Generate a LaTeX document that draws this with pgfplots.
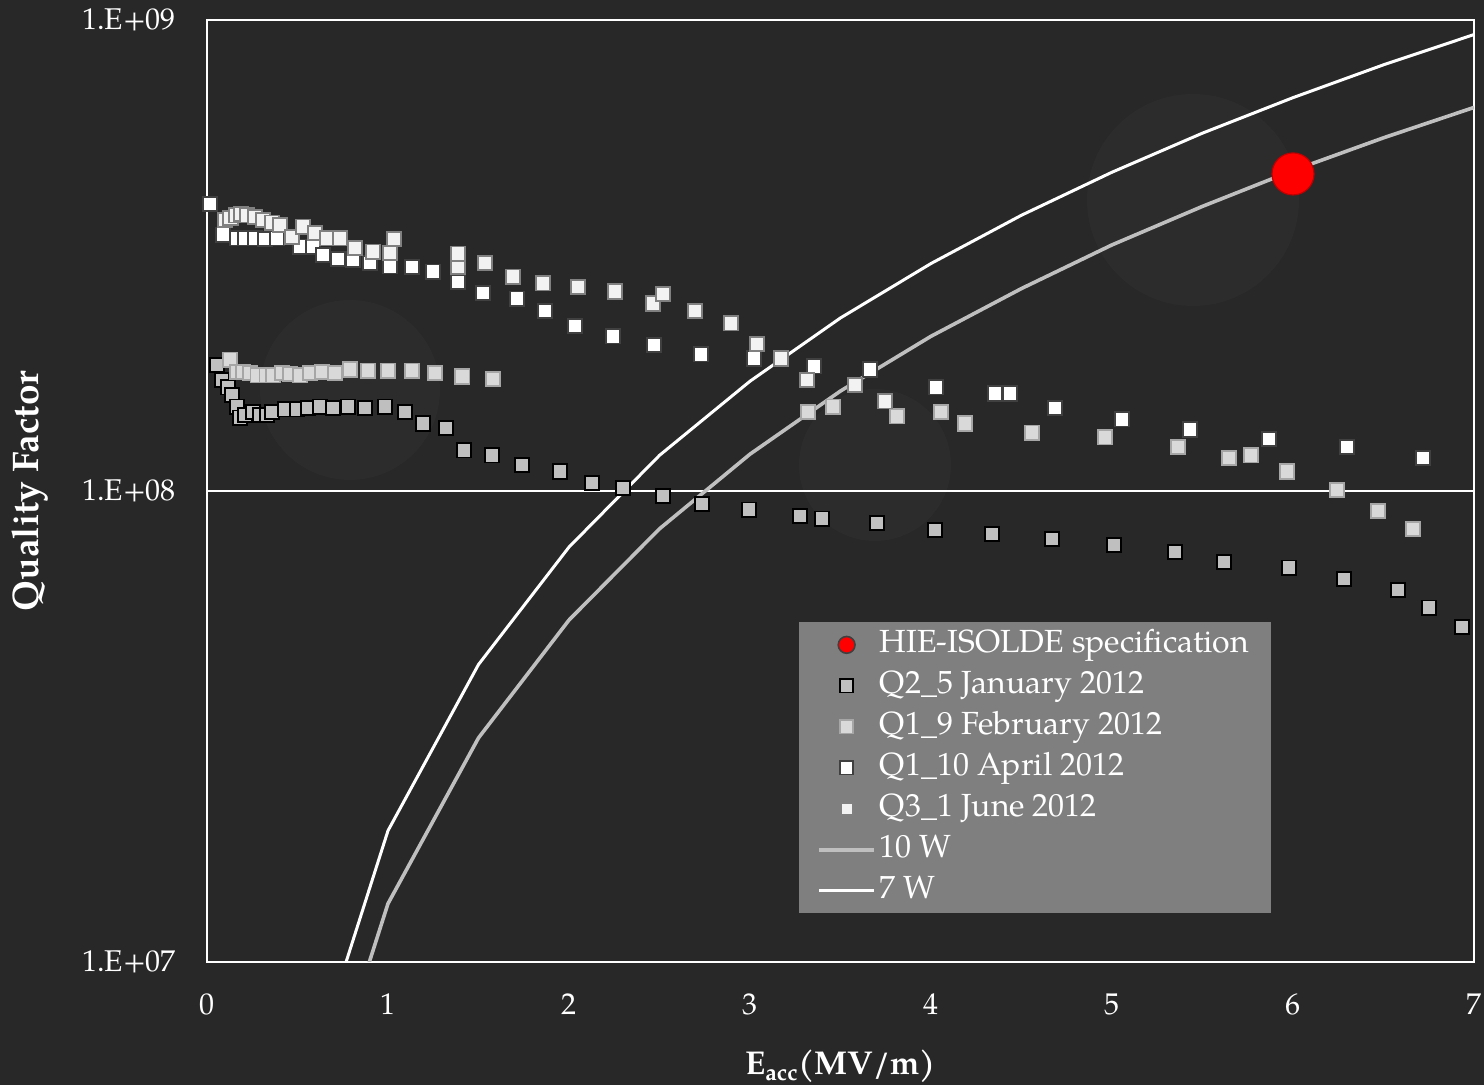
\documentclass[border=0pt]{standalone}
\usepackage{pgfplots}
\pgfplotsset{compat=1.18}
\usepackage{fontspec}
\setmainfont{TeX Gyre Pagella}
\definecolor{bg}{HTML}{282828}
\definecolor{leggray}{HTML}{7F7F7F}
\definecolor{janfill}{HTML}{BFBFBF}
\definecolor{febfill}{HTML}{D9D9D9}
\definecolor{febedge}{HTML}{A6A6A6}
\definecolor{apredge}{HTML}{404040}
\definecolor{junfill}{HTML}{F2F2F2}
\definecolor{junedge}{HTML}{808080}
\definecolor{tenw}{HTML}{BFBFBF}
\pgfplotsset{
  markleg/.style={legend image code/.code={\draw[##1] plot coordinates {(13.75pt,0pt)};}},
  lineleg/.style={legend image code/.code={\draw[##1] (0pt,0pt) -- (27.5pt,0pt);}},
  jan/.style={only marks, mark=square*, mark size=3.6pt, mark options={fill=janfill, draw=black, line width=0.9pt}},
  feb/.style={only marks, mark=square*, mark size=3.6pt, mark options={fill=febfill, draw=febedge, line width=0.9pt}},
  apr/.style={only marks, mark=square*, mark size=3.6pt, mark options={fill=white, draw=apredge, line width=0.9pt}},
  jun/.style={only marks, mark=square*, mark size=3.6pt, mark options={fill=junfill, draw=junedge, line width=0.9pt}},
}
\begin{document}
\begin{tikzpicture}
\fill[bg] (-103.5pt,-61.5pt) rectangle (638.5pt,481pt);
\fill[white, opacity=0.018] (71.5pt,286pt) circle (45pt);
\fill[white, opacity=0.018] (493pt,381pt) circle (53pt);
\fill[white, opacity=0.018] (334pt,248.5pt) circle (38pt);
\begin{axis}[
  at={(0pt,0pt)}, anchor=south west, scale only axis,
  width=633.5pt, height=471pt,
  xmin=0, xmax=7, ymode=log, ymin=1e7, ymax=1e9,
  xtick={0,1,2,3,4,5,6,7}, xticklabels={0,1,2,3,4,5,6,7},
  ytick={1e7,1e8,1e9}, yticklabels={1.E+07,1.E+08,1.E+09},
  major tick length=0pt, minor tick length=0pt,
  ymajorgrids, grid style={white, line width=1.2pt},
  axis line style={white, line width=1.2pt},
  tick label style={font=\fontsize{15}{18}\selectfont, text=white},
  xticklabel style={yshift=-12.5pt},
  yticklabel style={xshift=-12pt},
  xlabel={E\textsubscript{acc}(MV/m)},
  ylabel={Quality Factor},
  label style={text=white},
  xlabel style={font=\bfseries\fontsize{16.5}{20}\selectfont, at={(axis description cs:0.5,-0.12)}, anchor=base},
  ylabel style={font=\bfseries\fontsize{18.5}{22}\selectfont, at={(axis description cs:-0.1330,0.5)}, anchor=base, rotate=0},
  legend cell align=left,
  legend style={at={(axis description cs:0.4672,0.3609)}, anchor=north west,
    fill=leggray, draw=none, text=white, font=\fontsize{16}{19}\selectfont,
    inner xsep=9pt, inner ysep=1pt, row sep=0pt,
    nodes={text height=12pt, text depth=4.5pt, inner ysep=2pt}},
]
% legend entries
\addlegendimage{only marks, mark=*, mark size=4.2pt, mark options={fill=red, draw=apredge, line width=0.8pt}, markleg}
\addlegendentry{HIE-ISOLDE specification}
\addlegendimage{jan, mark size=3.3pt, markleg}
\addlegendentry{Q2\_5 January 2012}
\addlegendimage{feb, mark size=3.3pt, markleg}
\addlegendentry{Q1\_9 February 2012}
\addlegendimage{apr, mark size=3.3pt, markleg}
\addlegendentry{Q1\_10 April 2012}
\addlegendimage{jun, mark size=3.0pt, markleg}
\addlegendentry{Q3\_1 June 2012}
\addlegendimage{tenw, line width=1.8pt, lineleg}
\addlegendentry{10 W}
\addlegendimage{white, line width=1.5pt, lineleg}
\addlegendentry{7 W}

% 10 W
\addplot[tenw, line width=1.8pt, forget plot] coordinates {
(0.5,3.33e6) (1,1.33e7) (1.5,2.99e7) (2,5.32e7) (2.5,8.31e7) (3,1.197e8) (3.5,1.63e8)
(4,2.13e8) (4.5,2.69e8) (5,3.33e8) (5.5,4.02e8) (6,4.79e8) (6.5,5.62e8) (7,6.52e8)};
% 7 W
\addplot[white, line width=1.5pt, forget plot] coordinates {
(0.5,4.75e6) (1,1.9e7) (1.5,4.28e7) (2,7.6e7) (2.5,1.19e8) (3,1.71e8) (3.5,2.33e8)
(4,3.04e8) (4.5,3.85e8) (5,4.75e8) (5.5,5.75e8) (6,6.84e8) (6.5,8.03e8) (7,9.31e8)};

% Q2_5 January 2012
\addplot[jan, forget plot] coordinates {
(0.055,1.85e8) (0.083,1.72e8) (0.116,1.66e8) (0.138,1.60e8) (0.166,1.51e8) (0.182,1.43e8)
(0.21,1.45e8) (0.254,1.47e8) (0.293,1.45e8) (0.331,1.45e8) (0.359,1.47e8) (0.431,1.49e8)
(0.497,1.49e8) (0.558,1.50e8) (0.624,1.51e8) (0.696,1.50e8) (0.779,1.51e8) (0.873,1.50e8)
(0.983,1.51e8) (1.094,1.47e8) (1.193,1.39e8) (1.320,1.36e8) (1.420,1.22e8) (1.575,1.19e8)
(1.740,1.135e8) (1.950,1.10e8) (2.127,1.04e8) (2.298,1.015e8) (2.519,9.76e7) (2.735,9.38e7)
(2.994,9.12e7) (3.276,8.85e7) (3.398,8.73e7) (3.702,8.55e7) (4.022,8.27e7) (4.337,8.10e7)
(4.669,7.91e7) (5.011,7.68e7) (5.348,7.42e7) (5.619,7.06e7) (5.978,6.87e7) (6.282,6.50e7)
(6.580,6.16e7) (6.751,5.65e7) (6.934,5.14e7)};

% Q1_9 February 2012
\addplot[feb, forget plot] coordinates {
(0.127,1.90e8) (0.166,1.79e8) (0.20,1.79e8) (0.238,1.78e8) (0.28,1.76e8) (0.33,1.76e8)
(0.365,1.76e8) (0.414,1.78e8) (0.459,1.77e8) (0.514,1.76e8) (0.569,1.78e8) (0.635,1.79e8)
(0.707,1.78e8) (0.79,1.81e8) (0.89,1.80e8) (1.0,1.80e8) (1.133,1.80e8) (1.26,1.78e8)
(1.41,1.75e8) (1.58,1.73e8) (3.320,1.47e8) (3.459,1.51e8) (3.812,1.44e8) (4.055,1.47e8)
(4.188,1.39e8) (4.558,1.33e8) (4.961,1.30e8) (5.365,1.24e8) (5.646,1.175e8) (5.768,1.19e8)
(5.967,1.10e8) (6.243,1.005e8) (6.470,9.07e7) (6.663,8.30e7)};

% Q1_10 April 2012
\addplot[apr, forget plot] coordinates {
(0.017,4.07e8) (0.088,3.50e8) (0.166,3.44e8) (0.210,3.44e8) (0.265,3.44e8) (0.320,3.43e8)
(0.387,3.44e8) (0.514,3.30e8) (0.586,3.30e8) (0.641,3.17e8) (0.724,3.11e8) (0.807,3.10e8)
(0.901,3.05e8) (1.011,3.00e8) (1.133,2.99e8) (1.249,2.92e8) (1.387,2.78e8) (1.525,2.63e8)
(1.713,2.56e8) (1.867,2.41e8) (2.033,2.24e8) (2.243,2.13e8) (2.470,2.04e8) (2.729,1.95e8)
(3.022,1.91e8) (3.354,1.84e8) (3.663,1.81e8) (4.028,1.66e8) (4.354,1.61e8) (4.436,1.61e8)
(4.685,1.50e8) (5.055,1.42e8) (5.431,1.35e8) (5.867,1.29e8) (6.298,1.24e8) (6.718,1.175e8)};

% Q3_1 June 2012
\addplot[jun, forget plot] coordinates {
(0.099,3.76e8) (0.13,3.80e8) (0.16,3.85e8) (0.19,3.87e8) (0.221,3.85e8) (0.265,3.82e8)
(0.309,3.76e8) (0.359,3.71e8) (0.403,3.67e8) (0.470,3.46e8) (0.530,3.64e8) (0.597,3.53e8)
(0.663,3.44e8) (0.735,3.44e8) (0.818,3.28e8) (0.917,3.22e8) (1.011,3.20e8) (1.033,3.43e8)
(1.387,2.99e8) (1.387,3.19e8) (1.536,3.05e8) (1.691,2.85e8) (1.856,2.76e8) (2.050,2.71e8)
(2.254,2.65e8) (2.464,2.50e8) (2.519,2.62e8) (2.696,2.41e8) (2.895,2.27e8) (3.039,2.05e8)
(3.171,1.91e8) (3.315,1.72e8) (3.580,1.68e8) (3.746,1.55e8)};

% HIE-ISOLDE specification
\addplot[only marks, mark=*, mark size=10.5pt, mark options={fill=red, draw=red!75!black, line width=0.6pt}, forget plot] coordinates {(6,4.71e8)};
\end{axis}
\pgfresetboundingbox
\path (-103.5pt,-61.5pt) rectangle (638.5pt,481pt);
\end{tikzpicture}
\end{document}
